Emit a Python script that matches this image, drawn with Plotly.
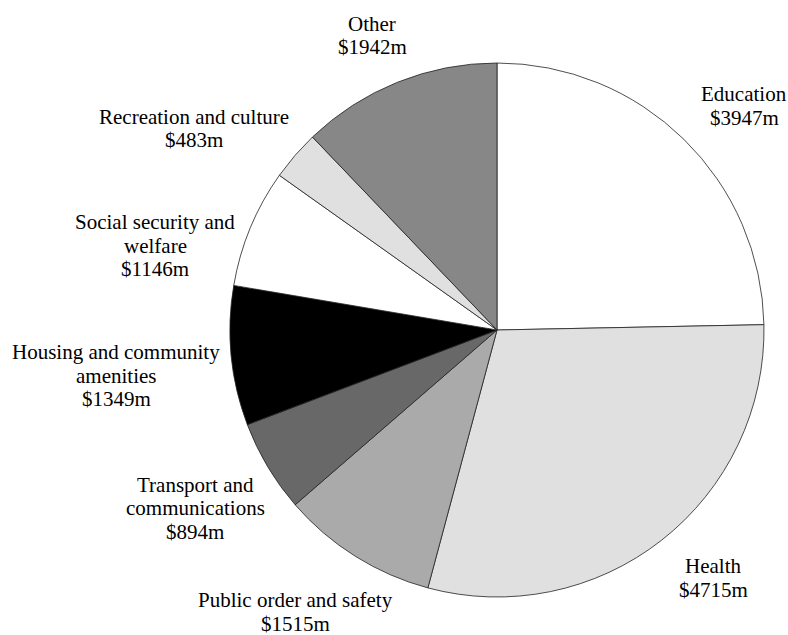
import plotly.graph_objects as go

categories = ["Education", "Health", "Public order and safety", "Transport and communications",
              "Housing and community amenities", "Social security and welfare",
              "Recreation and culture", "Other"]
values = [3947, 4715, 1515, 894, 1349, 1146, 483, 1942]
label_lines = [["Education"], ["Health"], ["Public order and safety"],
               ["Transport and", "communications"], ["Housing and community", "amenities"],
               ["Social security and", "welfare"], ["Recreation and culture"], ["Other"]]
colors = ["#ffffff", "#e0e0e0", "#aaaaaa", "#686868", "#000000", "#ffffff", "#e0e0e0", "#878787"]

W, H = 788, 635
cx, cy, r = 497, 330, 267

# label centre x and first-line centre y (screen pixels)
label_pos = [(744, 94), (713, 566), (295, 600), (195, 485), (116, 352), (155, 222), (194, 117), (372, 24)]
line_gap = 23.5

fig = go.Figure(go.Pie(
    labels=categories, values=values, sort=False, direction="clockwise", rotation=0,
    marker=dict(colors=colors, line=dict(color="#222222", width=0.8)),
    textinfo="none", hoverinfo="label+value", showlegend=False,
    domain=dict(x=[(cx - r) / W, (cx + r) / W], y=[(H - cy - r) / H, (H - cy + r) / H]),
))

font = dict(family="Liberation Serif, Times New Roman, serif", size=21, color="#000000")
for lines, v, (px, py) in zip(label_lines, values, label_pos):
    all_lines = lines + [f"${v}m"]
    for i, t in enumerate(all_lines):
        y = py + i * line_gap
        fig.add_annotation(x=px / W, y=1 - y / H, xref="paper", yref="paper",
                           text=t, showarrow=False, xanchor="center", yanchor="middle",
                           font=font, align="center")

fig.update_layout(width=W, height=H, margin=dict(l=0, r=0, t=0, b=0),
                  paper_bgcolor="white", plot_bgcolor="white")
fig.write_html("out.html", config={"displayModeBar": False},
               post_script="document.body.style.margin='0px';"
                           "document.documentElement.style.overflow='hidden';"
                           "document.body.style.overflow='hidden';")
